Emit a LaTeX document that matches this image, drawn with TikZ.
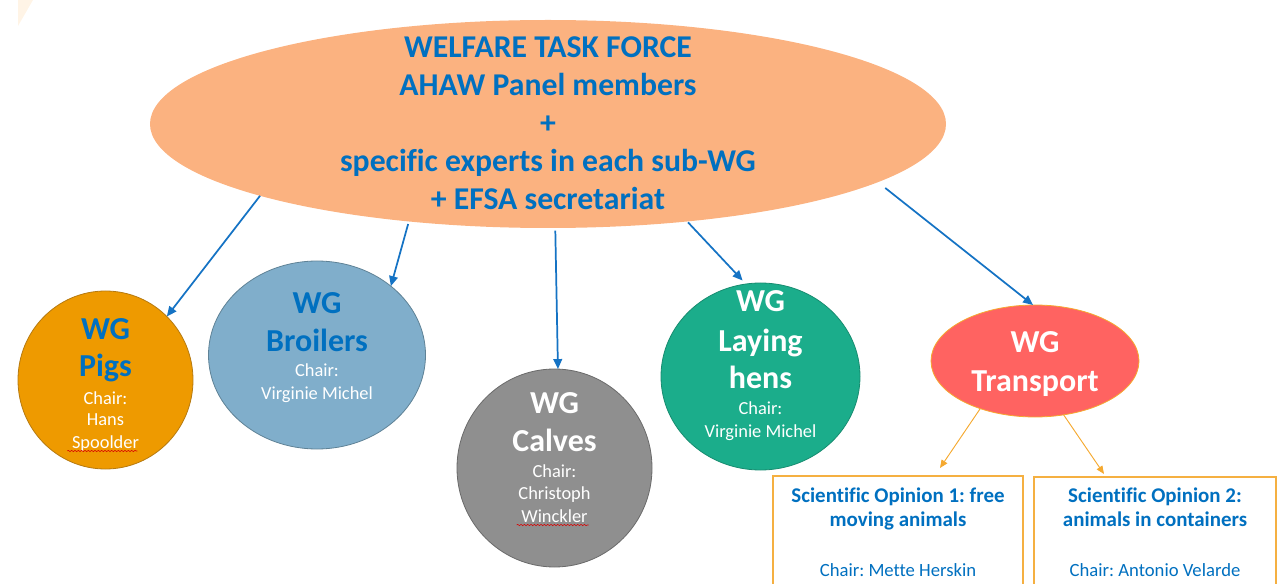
\documentclass[tikz,border=0pt]{standalone}
\usepackage{fontspec}
\setmainfont{Carlito}[Ligatures=NoCommon]
\frenchspacing
\usetikzlibrary{arrows.meta,shapes.geometric,decorations.pathmorphing}
\definecolor{tblue}{HTML}{0070C0}
\definecolor{lblue}{HTML}{1573C4}
\definecolor{peach}{HTML}{FBB280}
\definecolor{pigc}{HTML}{EE9A00}
\definecolor{pige}{HTML}{B67A10}
\definecolor{broc}{HTML}{80AECB}
\definecolor{broe}{HTML}{5F8296}
\definecolor{calc}{HTML}{8F8F8F}
\definecolor{cale}{HTML}{6A6A6A}
\definecolor{layc}{HTML}{1BAD8B}
\definecolor{laye}{HTML}{178C70}
\definecolor{trac}{HTML}{FF6361}
\definecolor{orl}{HTML}{F5A930}
\definecolor{boxe}{HTML}{F5B041}
\definecolor{faint}{HTML}{FFF4E6}
\tikzset{
  blob/.style={ellipse, inner sep=0pt, outer sep=0pt},
  barrow/.style={draw=lblue, line width=1.3pt, -{Triangle[length=7.5pt,width=6.5pt]}},
  oarrow/.style={draw=orl, line width=0.7pt, -{Triangle[length=6pt,width=5pt]}},
  tline/.style={anchor=base, text=tblue, font=\fontsize{23.8}{28}\selectfont\bfseries},
  wgb/.style={anchor=base, font=\fontsize{24}{28}\selectfont\bfseries},
  chr/.style={anchor=base, text=white, font=\fontsize{13.8}{16}\selectfont},
  optb/.style={anchor=base, text=tblue, font=\fontsize{15.7}{18}\selectfont\bfseries},
  optr/.style={anchor=base, text=tblue, font=\fontsize{14}{17}\selectfont},
  opbox/.style={draw=boxe, line width=0.8pt, fill=white, inner sep=0pt, outer sep=0pt},
  squig/.style={draw=red!85!black, line width=0.4pt, decorate, decoration={snake, amplitude=0.5pt, segment length=2.5pt}}
}
\begin{document}
\begin{tikzpicture}[x=0.75pt,y=-0.75pt]
\useasboundingbox (0,0) rectangle (1281,584);
\clip (0,0) rectangle (1281,584);
\fill[faint] (18,0) -- (33,0) -- (18,26) -- cycle;

% main ellipse
\node[blob, fill=peach, minimum width=597pt, minimum height=156pt] (big) at (548,124) {};
\node[tline] (t1) at (548,58) {WELFARE TASK FORCE};
\node[tline] (t2) at (548,96) {AHAW Panel members};
\node[tline] (t3) at (548,134) {+};
\node[tline] (t4) at (548,172) {specific experts in each sub-WG};
\node[tline] (t5) at (548,210) {+ EFSA secretariat};

% WG circles
\node[blob, fill=pigc, draw=pige, line width=0.6pt, minimum width=131.25pt, minimum height=133.5pt] (pigs) at (105.5,380) {};
\node[blob, fill=broc, draw=broe, line width=0.6pt, minimum width=162.75pt, minimum height=141pt] (broil) at (317,355) {};
\node[blob, fill=calc, draw=cale, line width=0.6pt, minimum width=146.25pt, minimum height=148.5pt] (calv) at (554.5,468) {};
\node[blob, fill=layc, draw=laye, line width=0.6pt, minimum width=149.25pt, minimum height=140.25pt] (lay) at (760.5,376.5) {};
\node[blob, fill=trac, draw=orl, line width=0.6pt, minimum width=156pt, minimum height=84pt] (trans) at (1035,361) {};

% pigs text
\node[wgb, text=tblue] (p1) at (105.5,340) {WG};
\node[wgb, text=tblue] (p2) at (105.5,377) {Pigs};
\node[chr] (p3) at (105.5,404) {Chair:};
\node[chr] (p4) at (105.5,425) {Hans};
\node[chr] (p5) at (105.5,448) {Spoolder};
\draw[squig] (p5.base west) ++(0,3) -- ++(70,0);

% broilers text
\node[wgb, text=tblue] (b1) at (317,314) {WG};
\node[wgb, text=tblue] (b2) at (317,352) {Broilers};
\node[chr] (b3) at (317,377) {Chair:};
\node[chr] (b4) at (317,399) {Virginie Michel};

% calves text
\node[wgb, text=white] (c1) at (554.5,413) {WG};
\node[wgb, text=white] (c2) at (554.5,451) {Calves};
\node[chr] (c3) at (554.5,477) {Chair:};
\node[chr] (c4) at (554.5,499) {Christoph};
\node[chr] (c5) at (554.5,522) {Winckler};
\draw[squig] (c5.base west) ++(0,3) -- ++(72,0);

% laying hens text
\node[wgb, text=white] (l1) at (760.5,312) {WG};
\node[wgb, text=white] (l2) at (760.5,352) {Laying};
\node[wgb, text=white] (l3) at (760.5,388) {hens};
\node[chr] (l4) at (760.5,414) {Chair:};
\node[chr] (l5) at (760.5,437) {Virginie Michel};

% transport text
\node[wgb, text=white] (r1) at (1035,353) {WG};
\node[wgb, text=white] (r2) at (1035,392) {Transport};

% opinion boxes
\node[opbox, minimum width=187.5pt, minimum height=120pt, anchor=north] (op1) at (898,476) {};
\node[opbox, minimum width=181.5pt, minimum height=120pt, anchor=north] (op2) at (1155,477) {};
\node[optb] (o11) at (898,502) {Scientific Opinion 1: free};
\node[optb] (o12) at (898,526) {moving animals};
\node[optr] (o13) at (898,576) {Chair: Mette Herskin};
\node[optb] (o21) at (1155,502) {Scientific Opinion 2:};
\node[optb] (o22) at (1155,526) {animals in containers};
\node[optr] (o23) at (1155,576) {Chair: Antonio Velarde};

% blue connectors
\draw[barrow] (big.194.7) -- (pigs.46);
\draw[barrow, shorten <=2pt] (big.215.8) -- (broil.43.5);
\draw[barrow, shorten <=2pt] (big.-86.3) -- (calv.88);
\draw[barrow, shorten <=1pt] (big.-35.5) -- ([yshift=3pt]lay.101.5);
\draw[barrow, shorten <=7pt] (big.-10.5) -- (trans.92);

% orange connectors
\coordinate (e1) at (940,468);
\coordinate (e2) at (1104,474);
\draw[oarrow] (trans.221) -- (e1);
\draw[oarrow] (trans.-62.6) -- (e2);
\end{tikzpicture}
\end{document}
